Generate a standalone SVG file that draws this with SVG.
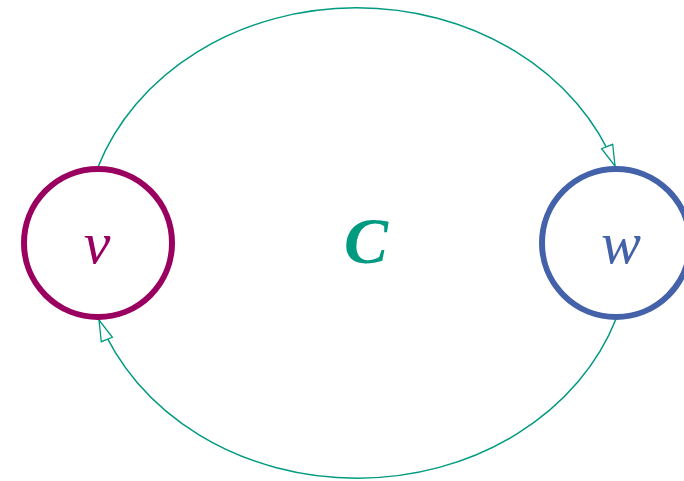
<svg xmlns="http://www.w3.org/2000/svg" width="684" height="481" viewBox="0 0 684 481">
<style>
.edge{fill:none;stroke:#009a80;stroke-width:1.5}
.node{fill:#fff;stroke-width:6}
.lbl{font-family:"Liberation Serif",serif;font-style:italic;text-anchor:middle}
</style>
<defs>
<marker id="arr" viewBox="0 0 23 14" refX="22" refY="7" markerWidth="23" markerHeight="14" markerUnits="userSpaceOnUse" orient="auto">
<path d="M1,1 L22,7 L1,13 Z" fill="#fff" stroke="#009a80" stroke-width="1.3"/>
</marker>
</defs>
<rect width="684" height="481" fill="#fff"/>
<g id="connectors">
<path class="edge" d="M 98 167 A 273.3 235 0 0 1 615 166" marker-end="url(#arr)"/>
<path class="edge" d="M 616 319 A 273.3 235 0 0 1 99 320" marker-end="url(#arr)"/>
</g>
<g id="v">
<circle class="node" cx="98" cy="243" r="74" stroke="#990060"/>
<text class="lbl" x="97" y="263" font-size="60" fill="#990060">v</text>
</g>
<g id="w">
<circle class="node" cx="616" cy="243" r="74" stroke="#4462aa"/>
<text class="lbl" x="621" y="263" font-size="60" fill="#4462aa">w</text>
</g>
<g id="C">
<text class="lbl" x="366" y="263" font-size="66" font-weight="bold" fill="#009a80">C</text>
</g>
</svg>
